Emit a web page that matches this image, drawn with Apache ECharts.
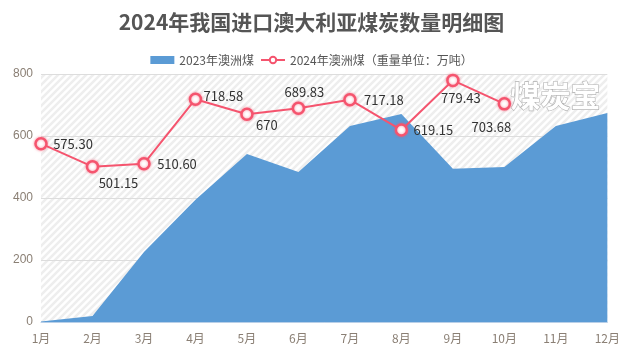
<!DOCTYPE html>
<html>
<head>
<meta charset="utf-8">
<script src="https://cdn.jsdelivr.net/npm/echarts@6/dist/echarts.min.js"></script>
<style>
  html, body { margin: 0; padding: 0; background: #fff; }
  #main { width: 623px; height: 352px; }
</style>
</head>
<body>
<div id="main"></div>
<script>
var months = ['1月', '2月', '3月', '4月', '5月', '6月', '7月', '8月', '9月', '10月', '11月', '12月'];
var coal2023 = [2, 19, 226, 394, 542, 484, 632, 671, 494, 500, 632, 674];
var coal2024 = ['575.30', '501.15', '510.60', '718.58', '670', '689.83', '717.18', '619.15', '779.43', '703.68'];
// 标签相对数据点的偏移（文字中心）
var labelOffset = [[32, 0], [26, 16], [33, 0], [28, -3], [20, 11], [6, -16], [34, 0], [32, 0], [8, 18], [-13, 23]];

// 斜线底纹
var pat = document.createElement('canvas');
pat.width = 7; pat.height = 7;
var ctx = pat.getContext('2d');
ctx.fillStyle = '#fff';
ctx.fillRect(0, 0, 7, 7);
ctx.strokeStyle = '#eeeeee';
ctx.lineWidth = 2.5;
ctx.beginPath();
ctx.moveTo(-1, 8); ctx.lineTo(8, -1);
ctx.moveTo(-1, 1); ctx.lineTo(1, -1);
ctx.moveTo(6, 8); ctx.lineTo(8, 6);
ctx.stroke();

var chart = echarts.init(document.getElementById('main'));
var option = {
  animation: false,
  title: {
    text: '2024年我国进口澳大利亚煤炭数量明细图',
    left: 'center',
    top: 7,
    textStyle: { fontSize: 21, fontWeight: 'bold', color: '#555', fontFamily: 'Noto Sans CJK SC' }
  },
  legend: {
    top: 49,
    itemGap: 6,
    textStyle: { fontSize: 12, color: '#555', fontFamily: 'Noto Sans CJK SC' },
    data: [
      { name: '2023年澳洲煤', icon: 'rect' },
      { name: '2024年澳洲煤（重量单位：万吨）' }
    ],
    itemWidth: 24,
    itemHeight: 8
  },
  grid: {
    left: 41, right: 15, top: 74, bottom: 30,
    show: true,
    borderWidth: 0,
    backgroundColor: { image: pat, repeat: 'repeat' }
  },
  graphic: [{
    type: 'text',
    right: 22,
    top: 80,
    z: 1,
    style: {
      text: '煤炭宝',
      fontSize: 30,
      fontWeight: 'bold',
      fontFamily: 'Noto Sans CJK SC',
      fill: '#fff',
      stroke: '#b0b0b0',
      lineWidth: 1.2
    }
  }],
  xAxis: {
    type: 'category',
    boundaryGap: false,
    data: months,
    axisLine: { lineStyle: { color: '#b8cfe8' } },
    axisTick: { show: false },
    axisLabel: { color: '#8a7f74', fontSize: 12, margin: 10, fontFamily: 'Noto Sans CJK SC' }
  },
  yAxis: {
    type: 'value',
    min: 0, max: 800, interval: 200,
    axisLine: { show: false },
    axisTick: { show: false },
    axisLabel: { color: '#8a7f74', fontSize: 12, margin: 8 },
    splitLine: { lineStyle: { color: '#ddd' } }
  },
  series: [
    {
      name: '2023年澳洲煤',
      type: 'line',
      data: coal2023,
      symbol: 'none',
      lineStyle: { width: 0 },
      itemStyle: { color: '#5b9bd5' },
      areaStyle: { color: '#5b9bd5', opacity: 1 },
      z: 2
    },
    {
      name: '2024年澳洲煤（重量单位：万吨）',
      type: 'line',
      data: coal2024.map(function (v, i) {
        return { value: parseFloat(v), label: { offset: labelOffset[i], formatter: v } };
      }),
      symbol: 'circle',
      symbolSize: 11,
      lineStyle: { color: '#f5546e', width: 2 },
      itemStyle: {
        color: '#fff',
        borderColor: '#f5546e',
        borderWidth: 2.5,
        shadowColor: 'rgba(245,84,110,0.6)',
        shadowBlur: 3
      },
      label: {
        show: true,
        position: 'inside',
        color: '#333',
        fontSize: 13,
        fontFamily: 'Noto Sans CJK SC'
      },
      z: 3
    }
  ]
};
chart.setOption(option);
</script>
</body>
</html>
